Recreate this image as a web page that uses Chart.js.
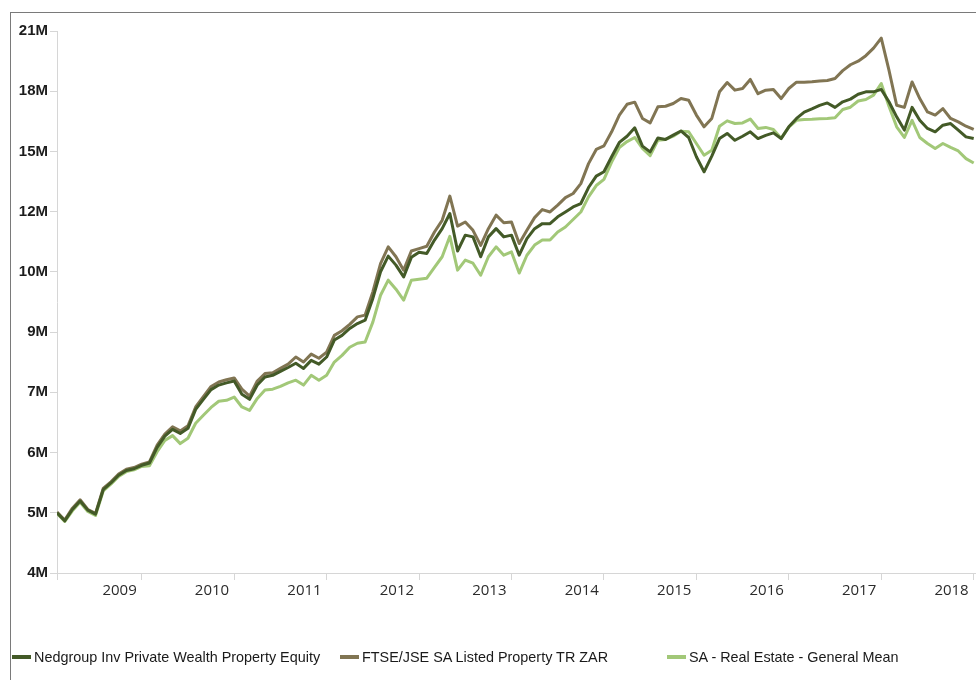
<!DOCTYPE html>
<html>
<head>
<meta charset="utf-8">
<script src="https://cdn.jsdelivr.net/npm/chart.js@4.4.1/dist/chart.umd.min.js"></script>
<style>
  html, body { margin: 0; padding: 0; background: #fff; overflow: hidden; }
  #wrap { position: relative; width: 976px; height: 680px; overflow: hidden; }
  #frame { position: absolute; left: 10px; top: 12px; width: 1000px; height: 700px; border: 1px solid #7a7a7a; }
  #chart { position: absolute; left: 0; top: 0; }
  .item { position: absolute; top: 649px; white-space: nowrap; display: flex; align-items: center;
          font: 14.4px "Liberation Sans", Arial, sans-serif; color: #1a1a1a; }
  .swatch { width: 19px; height: 4px; margin-right: 3px; }
</style>
</head>
<body>
<div id="wrap">
  <div id="frame"></div>
  <canvas id="chart" width="976" height="680"></canvas>
  <div id="legend"></div>
</div>
<script>
// monthly values in millions, Jan 2009 .. Dec 2018
const nedgroup = [
  4.98, 4.86, 5.03, 5.16, 5.02, 4.96, 5.34, 5.45, 5.58, 5.66,
  5.69, 5.75, 5.79, 6.07, 6.28, 6.41, 6.33, 6.43, 6.81, 7.02,
  7.23, 7.33, 7.38, 7.42, 7.13, 7.02, 7.33, 7.51, 7.55, 7.64,
  7.73, 7.83, 7.71, 7.90, 7.81, 7.98, 8.40, 8.52, 8.70, 8.83,
  8.92, 9.53, 10.33, 10.83, 10.54, 10.17, 10.79, 10.96, 10.92, 11.37,
  11.77, 12.32, 11.00, 11.54, 11.48, 10.81, 11.48, 11.77, 11.48, 11.54,
  10.86, 11.42, 11.77, 11.95, 11.95, 12.20, 12.38, 12.57, 12.70, 13.33,
  13.80, 13.98, 14.63, 15.28, 15.57, 15.97, 15.11, 14.85, 15.49, 15.42,
  15.62, 15.82, 15.51, 14.63, 13.98, 14.66, 15.46, 15.70, 15.38, 15.57,
  15.78, 15.46, 15.61, 15.73, 15.46, 16.02, 16.43, 16.75, 16.91, 17.09,
  17.22, 16.99, 17.28, 17.42, 17.68, 17.81, 17.81, 17.94, 17.28, 16.51,
  15.86, 16.99, 16.34, 15.94, 15.78, 16.10, 16.18, 15.86, 15.54, 15.46
];
const ftseJse = [
  4.99, 4.87, 5.05, 5.18, 5.03, 4.97, 5.36, 5.47, 5.60, 5.68,
  5.71, 5.77, 5.81, 6.11, 6.32, 6.46, 6.38, 6.48, 6.86, 7.08,
  7.30, 7.40, 7.45, 7.49, 7.24, 7.09, 7.42, 7.59, 7.61, 7.71,
  7.81, 7.98, 7.86, 8.05, 7.95, 8.10, 8.52, 8.64, 8.81, 9.01,
  9.06, 9.72, 10.59, 11.14, 10.81, 10.38, 11.00, 11.08, 11.16, 11.65,
  12.07, 12.99, 11.86, 12.01, 11.71, 11.19, 11.77, 12.26, 11.98, 12.01,
  11.25, 11.71, 12.17, 12.47, 12.38, 12.64, 12.93, 13.09, 13.49, 14.33,
  14.96, 15.12, 15.78, 16.60, 17.15, 17.26, 16.43, 16.21, 17.02, 17.05,
  17.19, 17.45, 17.36, 16.60, 16.02, 16.43, 17.81, 18.32, 17.90, 17.99,
  18.49, 17.71, 17.90, 17.94, 17.45, 17.99, 18.34, 18.34, 18.36, 18.40,
  18.43, 18.54, 18.99, 19.33, 19.54, 19.87, 20.33, 20.95, 19.02, 17.10,
  16.99, 18.35, 17.45, 16.76, 16.60, 16.93, 16.43, 16.26, 16.05, 15.89
];
const saRealEstate = [
  4.97, 4.85, 5.01, 5.14, 5.00, 4.94, 5.32, 5.43, 5.56, 5.64,
  5.67, 5.73, 5.74, 5.99, 6.20, 6.29, 6.14, 6.24, 6.53, 6.69,
  6.85, 6.98, 7.00, 7.07, 6.86, 6.79, 7.04, 7.22, 7.24, 7.30,
  7.38, 7.44, 7.33, 7.55, 7.44, 7.55, 7.86, 8.02, 8.22, 8.32,
  8.35, 8.87, 9.62, 10.07, 9.80, 9.48, 10.07, 10.10, 10.13, 10.47,
  10.81, 11.50, 10.38, 10.70, 10.60, 10.22, 10.81, 11.14, 10.86, 10.97,
  10.29, 10.86, 11.20, 11.37, 11.37, 11.65, 11.83, 12.10, 12.38, 12.96,
  13.41, 13.66, 14.40, 15.05, 15.32, 15.51, 15.01, 14.68, 15.38, 15.42,
  15.57, 15.81, 15.78, 15.23, 14.70, 14.92, 16.05, 16.31, 16.18, 16.21,
  16.40, 15.94, 15.99, 15.89, 15.47, 16.00, 16.34, 16.38, 16.39, 16.41,
  16.43, 16.46, 16.88, 17.00, 17.32, 17.40, 17.63, 18.26, 17.05, 16.02,
  15.51, 16.34, 15.51, 15.23, 15.00, 15.23, 15.05, 14.89, 14.55, 14.36
];

const seriesNames = [
  'Nedgroup Inv Private Wealth Property Equity',
  'FTSE/JSE SA Listed Property TR ZAR',
  'SA - Real Estate - General Mean'
];
const seriesColors = ['#435a27', '#817553', '#a2c878'];

// x ticks: month index of each year end, labels sit just left of the tick
const xTickIdx = [0, 11, 23, 35, 47, 59, 71, 83, 95, 107, 119];
const xTickLabels = ['', '2009', '2010', '2011', '2012', '2013', '2014', '2015', '2016', '2017', '2018'];

// log axis, ticks are evenly spaced steps of 1.2
const yTickValues = [4.15, 4.98, 5.976, 7.171, 8.605, 10.33, 12.39, 14.87, 17.84, 21.41];
const yTickLabels = ['4M', '5M', '6M', '7M', '9M', '10M', '12M', '15M', '18M', '21M'];

const toPoints = (arr) => arr.map((v, i) => ({ x: i, y: v }))
const allSeries = [nedgroup, ftseJse, saRealEstate]

const axisGray = '#d6d6d6'

new Chart(document.getElementById('chart'), {
  type: 'line',
  data: {
    datasets: allSeries.map((s, k) => ({
      label: seriesNames[k],
      data: toPoints(s),
      borderColor: seriesColors[k],
      backgroundColor: seriesColors[k],
      borderWidth: 3,
      pointRadius: 0,
      tension: 0,
      borderJoinStyle: 'round'
    }))
  },
  options: {
    responsive: false,
    animation: false,
    layout: { padding: { top: 31, left: 0, right: 0, bottom: 77 } },
    plugins: { legend: { display: false }, tooltip: { enabled: false } },
    scales: {
      x: {
        type: 'linear',
        min: 0,
        max: 119.3,
        afterBuildTicks: (s) => { s.ticks = xTickIdx.map(v => ({ value: v })) },
        afterFit: (s) => { s.height = 30 },
        grid: { drawOnChartArea: false, tickLength: 7, color: axisGray },
        border: { color: axisGray },
        ticks: {
          autoSkip: false,
          maxRotation: 0,
          align: 'end',
          labelOffset: -5,
          padding: 2,
          color: '#2b2b2b',
          font: { family: '"Open Sans", sans-serif', size: 15 },
          callback: (v, i) => xTickLabels[i]
        }
      },
      y: {
        type: 'logarithmic',
        min: yTickValues[0],
        max: yTickValues[yTickValues.length - 1],
        afterBuildTicks: (s) => { s.ticks = yTickValues.map(v => ({ value: v })) },
        afterFit: (s) => { s.width = 57 },
        grid: { drawOnChartArea: false, tickLength: 7, color: axisGray },
        border: { color: axisGray },
        ticks: {
          autoSkip: false,
          padding: 2,
          color: '#1c1c1c',
          font: { family: '"Liberation Sans", Arial, sans-serif', size: 15, weight: 'bold' },
          callback: (v, i) => yTickLabels[i]
        }
      }
    }
  }
});

// legend in fixed columns under the plot
const legendLeft = [12, 340, 667]
const legend = document.getElementById('legend')
seriesNames.forEach((name, k) => {
  const item = document.createElement('div')
  item.className = 'item'
  item.style.left = legendLeft[k] + 'px'
  item.innerHTML = '<span class="swatch" style="background:' + seriesColors[k] + '"></span><span>' + name + '</span>'
  legend.appendChild(item)
})
</script>
</body>
</html>
